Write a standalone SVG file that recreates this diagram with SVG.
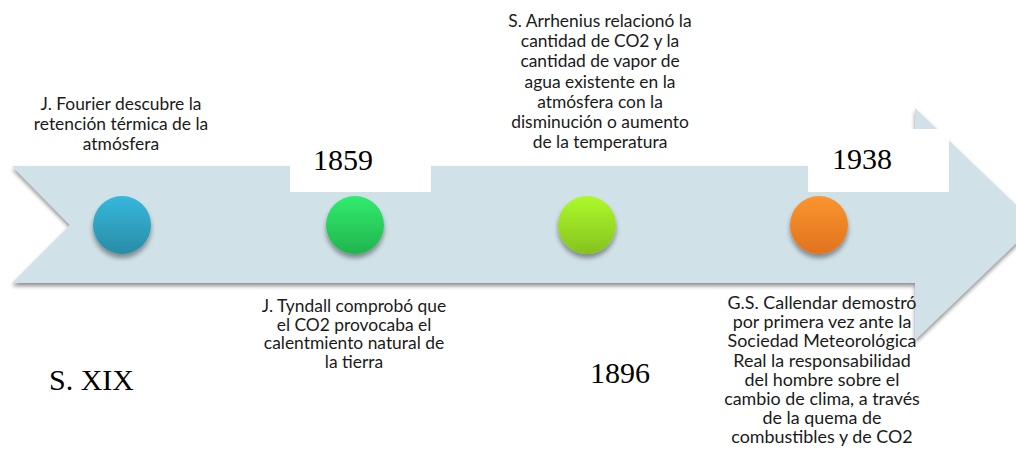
<svg xmlns="http://www.w3.org/2000/svg" width="1016" height="455" viewBox="0 0 1016 455">
<defs>
<style>
.t{font-family:Lato,"Open Sans",sans-serif;font-size:17.4px;fill:#1a1a1a;text-anchor:middle}
.t2{font-family:Lato,"Open Sans",sans-serif;font-size:17.4px;fill:#1a1a1a;text-anchor:middle}
.t3{font-family:Lato,"Open Sans",sans-serif;font-size:17.9px;fill:#1a1a1a;text-anchor:middle}
.y{font-family:"Liberation Serif",serif;font-size:30px;fill:#000}
.box{fill:#ffffff}
</style>
<filter id="sh" x="-10%" y="-10%" width="120%" height="130%">
<feGaussianBlur in="SourceAlpha" stdDeviation="2"/>
<feOffset dx="0" dy="3" result="b"/>
<feComponentTransfer><feFuncA type="linear" slope="0.45"/></feComponentTransfer>
<feMerge><feMergeNode/><feMergeNode in="SourceGraphic"/></feMerge>
</filter>
<filter id="csh" x="-30%" y="-30%" width="160%" height="170%">
<feGaussianBlur in="SourceAlpha" stdDeviation="2.5"/>
<feOffset dx="0" dy="4"/>
<feComponentTransfer><feFuncA type="linear" slope="0.4"/></feComponentTransfer>
<feMerge><feMergeNode/><feMergeNode in="SourceGraphic"/></feMerge>
</filter>
<linearGradient id="gb" x1="0" y1="0" x2="0" y2="1"><stop offset="0" stop-color="#35b8dc"/><stop offset="1" stop-color="#2a8ca6"/></linearGradient>
<linearGradient id="gg" x1="0" y1="0" x2="0" y2="1"><stop offset="0" stop-color="#30ec6c"/><stop offset="1" stop-color="#22b44e"/></linearGradient>
<linearGradient id="gl" x1="0" y1="0" x2="0" y2="1"><stop offset="0" stop-color="#adfa2c"/><stop offset="1" stop-color="#86c21e"/></linearGradient>
<linearGradient id="go" x1="0" y1="0" x2="0" y2="1"><stop offset="0" stop-color="#fa952f"/><stop offset="1" stop-color="#e0731e"/></linearGradient>
</defs>
<rect width="1016" height="455" fill="#ffffff"/>
<g id="arrow">
<path d="M12,166 L915,166 L915,108 L1036,224 L915,340 L915,283 L12,283 L70,225 Z" fill="#d0e1e8" filter="url(#sh)"/>
</g>
<g id="connectors"></g>
<g id="year-1859">
<rect class="box" x="290" y="129" width="141" height="63"/>
<text class="y" x="313" y="170">1859</text>
</g>
<g id="year-1938">
<rect class="box" x="808" y="129" width="141" height="63"/>
<text class="y" x="832" y="169">1938</text>
</g>
<g id="node-fourier">
<circle cx="122" cy="225" r="29" fill="url(#gb)" filter="url(#csh)"/>
<text class="t"><tspan x="121" y="110">J. Fourier descubre la</tspan><tspan x="121" y="130">retención térmica de la</tspan><tspan x="121" y="150">atmósfera</tspan></text>
</g>
<g id="node-tyndall">
<circle cx="355" cy="225" r="29" fill="url(#gg)" filter="url(#csh)"/>
<text class="t2"><tspan x="354" y="312">J. Tyndall comprobó que</tspan><tspan x="354" y="330.7">el CO2 provocaba el</tspan><tspan x="354" y="349.4">calentmiento natural de</tspan><tspan x="354" y="368">la tierra</tspan></text>
</g>
<g id="node-arrhenius">
<circle cx="587" cy="225" r="29" fill="url(#gl)" filter="url(#csh)"/>
<text class="t"><tspan x="600" y="27">S. Arrhenius relacionó la</tspan><tspan x="600" y="47.2">cantidad de CO2 y la</tspan><tspan x="600" y="67.4">cantidad de vapor de</tspan><tspan x="600" y="87.6">agua existente en la</tspan><tspan x="600" y="107.8">atmósfera con la</tspan><tspan x="600" y="128">disminución o aumento</tspan><tspan x="600" y="148.2">de la temperatura</tspan></text>
</g>
<g id="node-callendar">
<circle cx="819" cy="225" r="29" fill="url(#go)" filter="url(#csh)"/>
<text class="t3"><tspan x="822" y="309.3">G.S. Callendar demostró</tspan><tspan x="822" y="328.4">por primera vez ante la</tspan><tspan x="822" y="347.4">Sociedad Meteorológica</tspan><tspan x="822" y="366.5">Real la responsabilidad</tspan><tspan x="822" y="385.5">del hombre sobre el</tspan><tspan x="822" y="404.6">cambio de clima, a través</tspan><tspan x="822" y="423.6">de la quema de</tspan><tspan x="822" y="442.7">combustibles y de CO2</tspan></text>
</g>
<g id="label-sxix"><text class="y" x="49" y="390">S. XIX</text></g>
<g id="label-1896"><text class="y" x="590" y="383">1896</text></g>
</svg>
